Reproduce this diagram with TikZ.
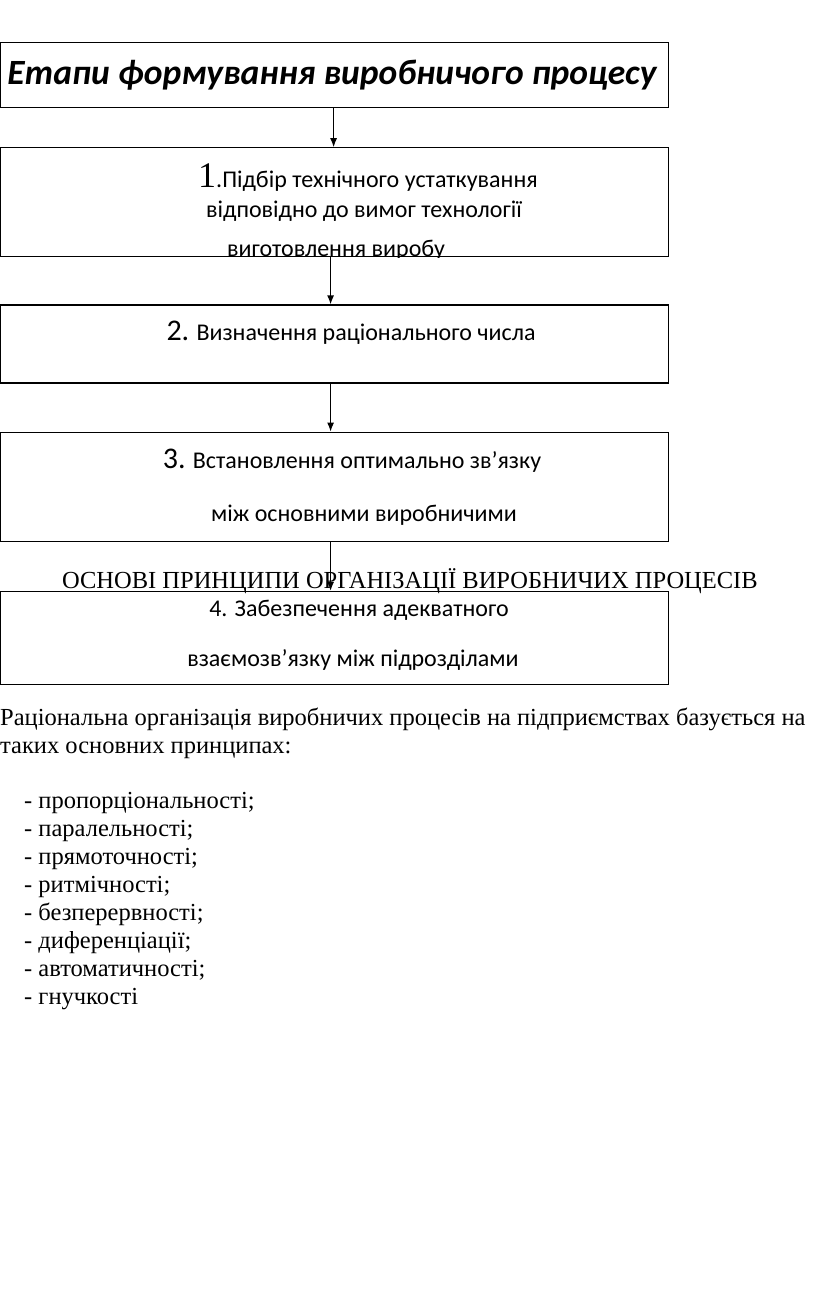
\documentclass[tikz,border=0pt]{standalone}
\usepackage{fontspec}
\setmainfont{Liberation Serif}
\newfontfamily\calibri{Carlito}
\usetikzlibrary{arrows.meta,positioning}

\tikzset{
  stage/.style={draw, line width=1.2pt, minimum width=668pt, inner sep=0pt, anchor=north west},
  boxtext/.style={font=\calibri\fontsize{24}{28}\selectfont, anchor=base, inner sep=0pt},
  arr/.style={-{Latex[length=9pt,width=7pt]}, line width=1.2pt},
  plain/.style={anchor=base west, inner sep=0pt, font=\fontsize{24.5}{28}\selectfont}
}

\begin{document}
\begin{tikzpicture}[x=1pt,y=-1pt]
  \useasboundingbox (0,0) rectangle (816,1294);
  % stages
  \node[stage, minimum height=65pt] (title) at (0,42) {};
  \node[stage, minimum height=109pt, below=39pt of title] (s1) {};
  \node[stage, minimum height=78pt, below=47pt of s1] (s2) {};
  \node[stage, minimum height=109pt, below=48pt of s2] (s3) {};
  \node[stage, minimum height=93pt, below=49pt of s3] (s4) {};

  \node[anchor=base, inner sep=0pt, font=\calibri\bfseries\itshape\fontsize{35.5}{36}\selectfont]
    (titletext) at (332,84) {Етапи формування виробничого процесу};

  \node[boxtext] (s1a) at (368,187) {{\rmfamily\fontsize{36}{36}\selectfont 1}.Підбір технічного устаткування};
  \node[boxtext] (s1b) at (364,217) {відповідно до вимог технології};
  \begin{scope}
    \clip (s1.north west) rectangle (s1.south east);
    \node[boxtext] (s1c) at (336,256) {виготовлення виробу};
  \end{scope}

  \node[boxtext] (s2a) at (351,340) {{\fontsize{30}{30}\selectfont 2.} Визначення раціонального числа};

  \node[boxtext] (s3a) at (352,468) {{\fontsize{30}{30}\selectfont 3.} Встановлення оптимально зв’язку};
  \node[boxtext] (s3b) at (364,521) {між основними виробничими};

  \node[boxtext] (s4a) at (359,616) {4. Забезпечення адекватного};
  \node[boxtext] (s4b) at (353,666) {взаємозв’язку між підрозділами};

  % arrows
  \draw[arr] ([xshift=-1pt]title.south) -- ([xshift=-1pt]s1.north);
  \draw[arr] ([xshift=-4pt]s1.south) -- ([xshift=-4pt]s2.north);
  \draw[arr] ([xshift=-4pt]s2.south) -- ([xshift=-4pt]s3.north);
  \draw[arr] ([xshift=-4pt]s3.south) -- ([xshift=-4pt]s4.north);

  \node[anchor=base, inner sep=0pt, font=\fontsize{24.5}{28}\selectfont]
    (heading) at (410,588) {ОСНОВІ ПРИНЦИПИ ОРГАНІЗАЦІЇ ВИРОБНИЧИХ ПРОЦЕСІВ};

  % principles
  \node[plain] (p1) at (0,725) {Раціональна організація виробничих процесів на підприємствах базується на};
  \node[plain] (p2) at (0,753) {таких основних принципах:};
  \foreach \txt [count=\i] in {пропорціональності;, паралельності;, прямоточності;, ритмічності;,
      безперервності;, диференціації;, автоматичності;, гнучкості}
    \node[plain] (item\i) at (24,{780+28*\i}) {- \txt};
\end{tikzpicture}
\end{document}
